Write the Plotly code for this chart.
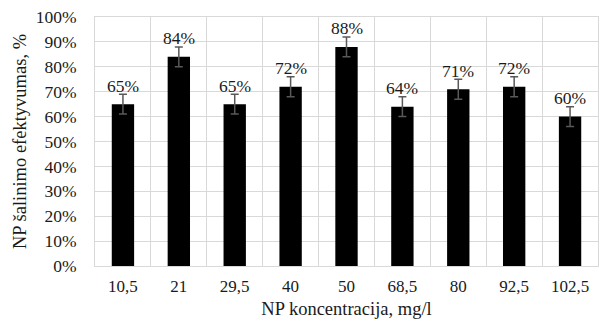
import plotly.graph_objects as go

categories = ["10,5", "21", "29,5", "40", "50", "68,5", "80", "92,5", "102,5"]
values = [65, 84, 65, 72, 88, 64, 71, 72, 60]
errors = [4, 4, 4, 4, 4, 4, 4, 4, 4]
y_ticks = list(range(0, 101, 10))
y_tick_labels = [f"{t}%" for t in y_ticks]

FONT = "Liberation Serif, Times New Roman, serif"
TXT = "#1a1a1a"
GRID = "#d9d9d9"

fig = go.Figure()
fig.add_trace(go.Bar(
    x=categories, y=values,
    marker=dict(color="black", line=dict(width=0)),
    error_y=dict(type="data", array=errors, visible=True,
                 color="#595959", thickness=1.5, width=4),
    hoverinfo="skip",
))

for i, (v, e) in enumerate(zip(values, errors)):
    fig.add_annotation(x=i, y=v + e, text=f"{v}%", showarrow=False,
                       yanchor="bottom", yshift=-3.5,
                       font=dict(family=FONT, size=17.5, color=TXT))

fig.update_layout(
    width=601, height=324,
    margin=dict(l=95, r=3, t=17, b=58),
    paper_bgcolor="white", plot_bgcolor="white",
    bargap=0.6, showlegend=False,
    font=dict(family=FONT, size=17, color=TXT),
)
fig.update_xaxes(
    type="category", tickson="boundaries", range=[-0.5, len(categories) - 0.5],
    showgrid=True, gridcolor=GRID, gridwidth=1,
    showline=True, linecolor=GRID, linewidth=1, mirror=True,
    ticks="", ticklabelstandoff=5, tickangle=0,
    tickfont=dict(family=FONT, size=17, color=TXT),
    title=dict(text="NP koncentracija, mg/l", standoff=6,
               font=dict(family=FONT, size=18.5, color=TXT)),
)
fig.update_yaxes(
    range=[0, 100], tickmode="array", tickvals=y_ticks, ticktext=y_tick_labels,
    showgrid=True, gridcolor=GRID, gridwidth=1,
    showline=True, linecolor=GRID, linewidth=1, mirror=True,
    zeroline=False, ticks="", ticklabelstandoff=14,
    tickfont=dict(family=FONT, size=17.5, color=TXT),
    title=dict(text="NP šalinimo efektyvumas, %", standoff=4,
               font=dict(family=FONT, size=18.5, color=TXT)),
)

fig.write_html("out.html")
